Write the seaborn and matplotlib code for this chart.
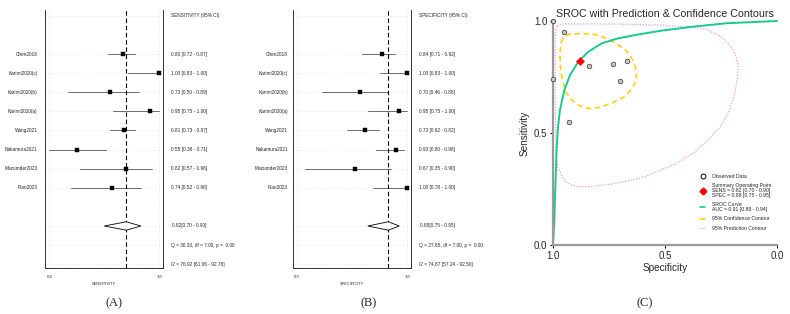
import matplotlib
matplotlib.use("Agg")
import matplotlib.pyplot as plt
from matplotlib.lines import Line2D
import numpy as np
import pandas as pd
import seaborn as sns

# ---- forest plot data
studies = ["Chen2018", "Karimi2020(c)", "Karimi2020(b)", "Karimi2020(a)",
           "Wang2021", "Nakamura2021", "Mazumder2023", "Piao2023"]

sens = [0.80, 1.00, 0.73, 0.95, 0.81, 0.55, 0.82, 0.74]
sens_lo = [0.72, 0.83, 0.50, 0.75, 0.73, 0.38, 0.57, 0.52]
sens_hi = [0.87, 1.00, 0.89, 1.00, 0.87, 0.71, 0.96, 0.90]
sens_pooled = [0.82, 0.70, 0.90]
sens_q = "Q = 30.33, df = 7.00, p =  0.00"
sens_i2 = "I2 = 76.92 [61.06 - 92.78]"

spec = [0.84, 1.00, 0.70, 0.95, 0.73, 0.93, 0.67, 1.00]
spec_lo = [0.71, 0.83, 0.46, 0.75, 0.62, 0.80, 0.35, 0.78]
spec_hi = [0.92, 1.00, 0.88, 1.00, 0.82, 0.98, 0.90, 1.00]
spec_pooled = [0.88, 0.75, 0.95]
spec_q = "Q = 27.85, df = 7.00, p =  0.00"
spec_i2 = "I2 = 74.87 [57.24 - 92.50]"

# ---- SROC data (specificity, sensitivity)
sroc_spec = [1.0, 0.994, 0.991, 0.987, 0.984, 0.979, 0.969, 0.949, 0.924, 0.887,
             0.842, 0.783, 0.708, 0.619, 0.515, 0.374, 0.225, 0.0]
sroc_sens = [0.0, 0.112, 0.216, 0.335, 0.424, 0.513, 0.603, 0.692, 0.759, 0.818,
             0.863, 0.900, 0.923, 0.940, 0.957, 0.975, 0.990, 1.0]

conf_spec = [0.964, 0.953, 0.924, 0.871, 0.813, 0.759, 0.714, 0.671, 0.643, 0.627,
             0.629, 0.652, 0.686, 0.738, 0.790, 0.835, 0.879, 0.917, 0.943, 0.958,
             0.967, 0.969, 0.964]
conf_sens = [0.902, 0.929, 0.942, 0.944, 0.940, 0.922, 0.897, 0.866, 0.826, 0.777,
             0.732, 0.692, 0.659, 0.633, 0.615, 0.608, 0.621, 0.647, 0.684, 0.737,
             0.796, 0.856, 0.902]

pred_spec = [0.982, 0.960, 0.879, 0.790, 0.701, 0.612, 0.522, 0.420, 0.329, 0.262,
             0.217, 0.188, 0.173, 0.177, 0.188, 0.217, 0.254, 0.308, 0.374, 0.463,
             0.522, 0.589, 0.665, 0.738, 0.790, 0.842, 0.888, 0.917, 0.942, 0.954,
             0.976, 0.987, 0.988, 0.990, 0.991, 0.990, 0.982]
pred_sens = [0.978, 0.987, 0.987, 0.987, 0.986, 0.984, 0.982, 0.975, 0.967, 0.938,
             0.900, 0.856, 0.804, 0.751, 0.677, 0.588, 0.528, 0.469, 0.409, 0.357,
             0.333, 0.305, 0.286, 0.272, 0.266, 0.260, 0.261, 0.268, 0.281, 0.298,
             0.342, 0.394, 0.513, 0.647, 0.826, 0.938, 0.978]

summary_point = [0.88, 0.82]  # spec, sens

sns.set_theme(style="white")
plt.rcParams["font.family"] = ["Liberation Sans", "DejaVu Sans"]

fig = plt.figure(figsize=(7.9, 3.14), dpi=100)

FS = 3.4


def forest(ax, est, lo, hi, pooled, header, xlabel, ticks, xlim, q_txt, i2_txt, lab_x):
    rows = np.arange(2, 2 + len(est))
    df = pd.DataFrame({"est": est, "row": rows})
    xmin = ticks[0]
    for r, a, b in zip(rows, lo, hi):
        ax.plot([max(a, xmin), b], [r, r], color="#555555", lw=0.6, zorder=2)
    sns.scatterplot(data=df, x="est", y="row", marker="s", s=5, color="black",
                    edgecolor="black", linewidth=0.3, ax=ax, zorder=3, legend=False)
    p, plo, phi = pooled
    ax.fill([plo, p, phi, p], [11, 10.78, 11, 11.22], facecolor="white",
            edgecolor="black", lw=0.6, zorder=3)
    ax.axvline(p, color="black", ls=(0, (4, 2.5)), lw=0.8, zorder=2)

    ax.set_xlim(*xlim)
    ax.set_ylim(13.2, -0.31)
    ax.set_xticks(ticks)
    ax.set_xticklabels(["%.1f" % t for t in ticks], fontsize=3.1)
    ax.set_yticks([0, 2, 3, 4, 5, 6, 7, 8, 9, 11, 12, 13])
    ax.set_yticklabels([])
    ax.tick_params(length=0, pad=5)
    ax.grid(True, color="#e2e2e2", ls=(0, (3, 3)), lw=0.4)
    ax.set_xlabel(xlabel, fontsize=2.8, labelpad=2)
    ax.set_ylabel("")
    ax.spines["top"].set_visible(False)
    for s in ["left", "right", "bottom"]:
        ax.spines[s].set_color("#333333")
        ax.spines[s].set_linewidth(0.7)

    tr = ax.get_yaxis_transform()
    ax.text(1.068, 0, header, transform=tr, fontsize=FS, va="center", ha="left")
    for r, name, e, a, b in zip(rows, studies, est, lo, hi):
        ax.text(lab_x, r, name, transform=tr, fontsize=FS, va="center", ha="right")
        ax.text(1.068, r, "%.2f [%.2f - %.2f]" % (e, a, b), transform=tr,
                fontsize=FS, va="center", ha="left")
    ax.text(1.075, 11, "%.2f[%.2f - %.2f]" % (p, plo, phi), transform=tr,
            fontsize=FS, va="center", ha="left")
    ax.text(1.068, 12, q_txt, transform=tr, fontsize=FS, va="center", ha="left")
    ax.text(1.068, 13, i2_txt, transform=tr, fontsize=FS, va="center", ha="left")


axA = fig.add_axes([0.0570, 0.1465, 0.1497, 0.8217])
forest(axA, sens, sens_lo, sens_hi, sens_pooled, "SENSITIVITY (95% CI)", "SENSITIVITY",
       [0.4, 1.0], (0.3765, 1.022), sens_q, sens_i2, -0.062)

axB = fig.add_axes([0.3713, 0.1465, 0.1490, 0.8217])
forest(axB, spec, spec_lo, spec_hi, spec_pooled, "SPECIFICITY (95% CI)", "SPECIFICITY",
       [0.3, 1.0], (0.276, 1.025), spec_q, spec_i2, -0.045)

# ---- SROC panel
axC = fig.add_axes([0.7000, 0.2197, 0.2835, 0.7134])
green = "#19c98f"
yellow = "#ffd21f"
pink = "#e99ad9"

sns.lineplot(x=pred_spec, y=pred_sens, sort=False, estimator=None, color=pink,
             lw=0.9, ls=(0, (1, 1.3)), ax=axC, clip_on=False)
sns.lineplot(x=conf_spec, y=conf_sens, sort=False, estimator=None, color=yellow,
             lw=1.3, ls=(0, (3, 2)), ax=axC)
sns.lineplot(x=sroc_spec, y=sroc_sens, sort=False, estimator=None, color=green,
             lw=1.4, ax=axC, clip_on=False)
sns.scatterplot(x=spec, y=sens, s=11, color="#c8c8c8", edgecolor="#333333",
                linewidth=0.5, ax=axC, zorder=4, clip_on=False)
sns.scatterplot(x=[summary_point[0]], y=[summary_point[1]], marker="D", s=18,
                color="red", edgecolor="red", linewidth=0.3, ax=axC, zorder=5)

axC.set_xlim(1, 0)
axC.set_ylim(0, 1)
axC.set_xticks([1.0, 0.5, 0.0])
axC.set_xticklabels(["1.0", "0.5", "0.0"])
axC.set_yticks([0.0, 0.5, 1.0])
axC.set_yticklabels(["0.0", "0.5", "1.0"])
axC.tick_params(length=2.5, width=0.8, color="black", labelsize=7, pad=1.5,
                bottom=True, left=True)
for s in ["top", "right"]:
    axC.spines[s].set_visible(False)
for s in ["left", "bottom"]:
    axC.spines[s].set_color("#9a9a9a")
    axC.spines[s].set_linewidth(1.6)
axC.set_xlabel("Specificity", fontsize=7.2, labelpad=2)
axC.set_ylabel("Sensitivity", fontsize=7.2, labelpad=3)
axC.set_title("SROC with Prediction & Confidence Contours", fontsize=7.7, pad=3)

handles = [
    Line2D([], [], ls="none", marker="o", ms=3.5, mfc="none", mec="black", mew=0.7),
    Line2D([], [], ls="none", marker="D", ms=3.5, mfc="red", mec="red"),
    Line2D([], [], color=green, lw=1.2),
    Line2D([], [], color=yellow, lw=1.2),
    Line2D([], [], color=pink, lw=0.9, ls=(0, (1, 1.3))),
]
labels = [
    "Observed Data",
    "Summary Operating Point\nSENS = 0.82 [0.70 - 0.90]\nSPEC = 0.88 [0.75 - 0.95]",
    "SROC Curve\nAUC = 0.91 [0.89 - 0.94]",
    "95% Confidence Contour",
    "95% Prediction Contour",
]
leg = axC.legend(handles, labels, loc="upper left", bbox_to_anchor=(0.657, 0.318),
                 frameon=False, fontsize=3.7, handlelength=1.0, handletextpad=1.25,
                 labelspacing=0.9, borderpad=0, borderaxespad=0)
for t in leg.get_texts():
    t.set_linespacing(0.9)

for x, lab in [(0.144, "(A)"), (0.467, "(B)"), (0.816, "(C)")]:
    fig.text(x, 0.035, lab, ha="center", va="center", fontsize=9,
             family=["Liberation Serif", "DejaVu Serif"])

fig.savefig("out.png", dpi=100)
